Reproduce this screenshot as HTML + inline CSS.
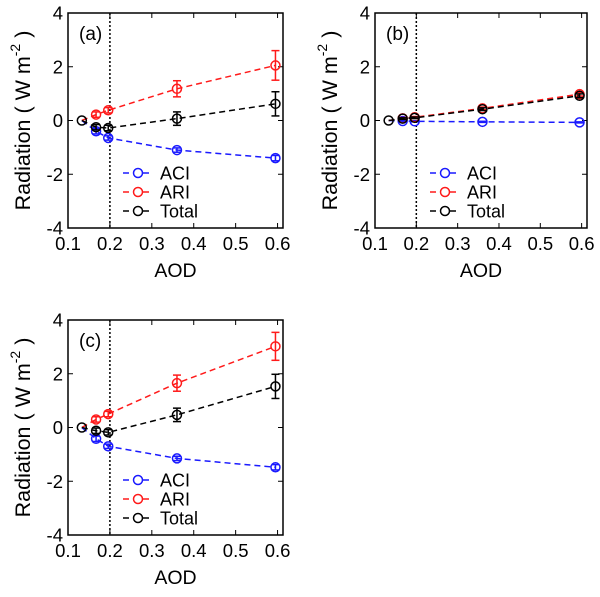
<!DOCTYPE html>
<html><head><meta charset="utf-8"><style>
body{margin:0;background:#fff;width:600px;height:592px;overflow:hidden}
svg text{font-family:"Liberation Sans",Arial,sans-serif}
</style></head><body>
<svg id="s" width="600" height="592"></svg>
<script>
const aod=[0.133,0.167,0.196,0.36,0.595];
const xTicks=[0.1,0.2,0.3,0.4,0.5,0.6];
const yTicks=[-4,-2,0,2,4];
const panelLabels=["(a)","(b)","(c)"];
const aciA=[0,-0.4,-0.65,-1.1,-1.4], aciAErr=[0,0.1,0.08,0.08,0.1];
const ariA=[0,0.22,0.38,1.18,2.05], ariAErr=[0,0.1,0.1,0.3,0.55];
const totA=[0,-0.25,-0.28,0.07,0.62], totAErr=[0,0.1,0.1,0.25,0.45];
const aciB=[0,-0.02,-0.03,-0.05,-0.07], aciBErr=[0,0.02,0.02,0.02,0.02];
const ariB=[0,0.08,0.12,0.45,0.98], ariBErr=[0,0.03,0.03,0.05,0.07];
const totB=[0,0.07,0.1,0.42,0.92], totBErr=[0,0.03,0.03,0.05,0.07];
const aciC=[0,-0.42,-0.7,-1.15,-1.48], aciCErr=[0,0.1,0.08,0.08,0.1];
const ariC=[0,0.3,0.5,1.65,3.02], ariCErr=[0,0.1,0.1,0.3,0.52];
const totC=[0,-0.12,-0.18,0.47,1.53], totCErr=[0,0.1,0.1,0.25,0.45];
const NS="http://www.w3.org/2000/svg", svg=document.getElementById('s');
function el(t,a,p){const e=document.createElementNS(NS,t);for(const k in a)e.setAttribute(k,a[k]);(p||svg).appendChild(e);return e;}
const panels=[
 {L:68,R:283,T:13,B:228,lab:0,series:[[aciA,aciAErr],[ariA,ariAErr],[totA,totAErr]]},
 {L:375,R:587,T:13,B:228,lab:1,series:[[aciB,aciBErr],[ariB,ariBErr],[totB,totBErr]]},
 {L:68,R:283,T:320,B:535,lab:2,series:[[aciC,aciCErr],[ariC,ariCErr],[totC,totCErr]]}];
const colors=["#1a1aff","#ff1a1a","#000"], names=["ACI","ARI","Total"];
panels.forEach((p,pi)=>{
 const g=el('g',{});
 
 
 const ys=v=>p.T+(4-v)/8*(p.B-p.T);
 const x=v=>p.L+(v-0.1)*((p.R-p.L)/0.513);
 el('rect',{x:p.L,y:p.T,width:p.R-p.L,height:p.B-p.T,fill:'none',stroke:'#000','stroke-width':1.5},g);
 xTicks.forEach(t=>{const X=x(t);el('line',{x1:X,x2:X,y1:p.B,y2:p.B-5,stroke:'#000'},g);el('line',{x1:X,x2:X,y1:p.T,y2:p.T+5,stroke:'#000'},g);
  const tx=el('text',{x:X,y:p.B+22,'font-size':18.5,'text-anchor':'middle'},g);tx.textContent=t.toFixed(1);});
 yTicks.forEach(t=>{const Y=ys(t);el('line',{x1:p.L,x2:p.L+5,y1:Y,y2:Y,stroke:'#000'},g);el('line',{x1:p.R,x2:p.R-5,y1:Y,y2:Y,stroke:'#000'},g);
  const tx=el('text',{x:p.L-5,y:Y+6.5,'font-size':18.5,'text-anchor':'end'},g);tx.textContent=t;});
 el('line',{x1:x(0.2),x2:x(0.2),y1:p.T,y2:p.B,stroke:'#000','stroke-dasharray':'2,2','stroke-width':1.5},g);
 const pl=el('text',{x:p.L+11,y:p.T+27,'font-size':19},g);pl.textContent=panelLabels[p.lab];
 const yl=el('text',{transform:`translate(${p.L-38},${(p.T+p.B)/2}) rotate(-90)`,'font-size':21.5,'text-anchor':'middle'},g);
 
 yl.innerHTML='Radiation ( W m<tspan dy="-10" font-size="14">-2</tspan><tspan dy="10"> )</tspan>';
 const xl=el('text',{x:(p.L+p.R)/2,y:p.B+49,'font-size':19.5,'text-anchor':'middle'},g);xl.textContent='AOD';
 
 p.series.forEach(([vals,err],si)=>{
  const c=colors[si];
  el('polyline',{points:aod.map((a,i)=>x(a)+','+ys(vals[i])).join(' '),fill:'none',stroke:c,'stroke-width':1.5,'stroke-dasharray':'6,4'},g);
  aod.forEach((a,i)=>{const X=x(a),Y=ys(vals[i]);
   if(i===0&&si<2)return;
   if(err[i]>0){const y1=ys(vals[i]+err[i]),y2=ys(vals[i]-err[i]);
    el('line',{x1:X,x2:X,y1:y1,y2:y2,stroke:c,'stroke-width':1.5},g);
    el('line',{x1:X-4,x2:X+4,y1:y1,y2:y1,stroke:c,'stroke-width':1.5},g);
    el('line',{x1:X-4,x2:X+4,y1:y2,y2:y2,stroke:c,'stroke-width':1.5},g);}
   const m=el('circle',{cx:X,cy:Y,r:4.5,fill:'none',stroke:c,'stroke-width':1.5},g);
   
   });
 });
 names.forEach((n,i)=>{const Y=p.T+160+i*19, lx=p.L+55;
  const lg=el('g',{},g);
  
  
  el('line',{x1:lx,x2:lx+30,y1:Y,y2:Y,stroke:colors[i],'stroke-width':1.5,'stroke-dasharray':'6,4'},lg);
  el('circle',{cx:lx+15,cy:Y,r:4.5,fill:'#fff',stroke:colors[i],'stroke-width':1.5},lg);
  const t=el('text',{x:lx+37,y:Y+6.5,'font-size':18},lg);t.textContent=n;});
});
</script>
</body></html>
